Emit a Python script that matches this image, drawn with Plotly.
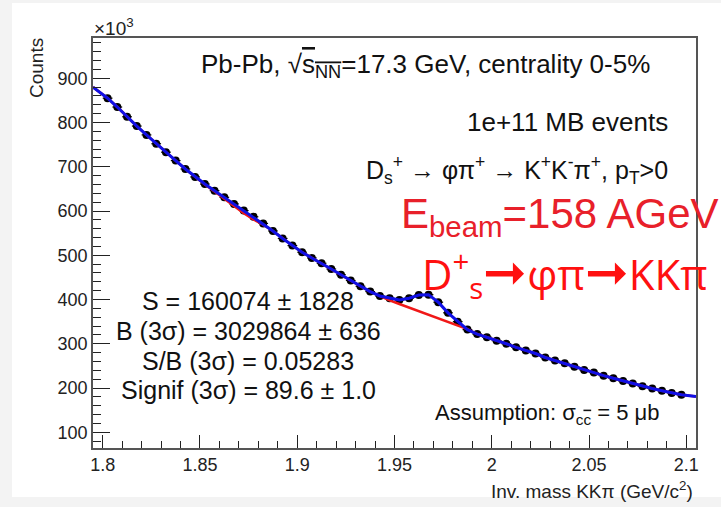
import plotly.graph_objects as go

# ---------------- data (counts in units of 10^3) ----------------
mass_centers = [1.8025 + 0.005 * i for i in range(60)]   # bin centres, 5 MeV bins
counts = [855, 835, 813, 792, 772, 752, 733, 714, 695, 677,
          661, 646, 631, 616, 601, 587, 572, 555, 538, 522,
          507, 494, 482, 469, 456, 443, 430, 418, 408, 403,
          399, 403, 410, 411, 394, 370, 350, 332, 322, 315,
          307, 300, 292, 285, 278, 269, 262, 256, 248, 241,
          235, 228, 222, 216, 210, 204, 199, 194, 189, 185]

# total fit (blue) and background fit (red), sampled at range edges + bin centres
fit_x = [1.795] + mass_centers + [2.105]
fit_total = [880] + counts + [181]
fit_bkg = ([880,
            855, 835, 813, 792, 772, 752, 733, 714, 695, 677,
            660, 644, 627, 610, 595, 581, 569, 555, 538, 522,
            507, 494, 482, 469, 456, 443, 430, 418, 408, 398,
            390, 382, 374, 366, 358, 350, 342, 333, 322, 315,
            307, 300, 292, 285, 278, 269, 262, 256, 248, 241,
            235, 228, 222, 216, 210, 204, 199, 194, 189, 185]
           + [181])

x_range = [1.795, 2.105]
y_range = [64.5, 991]

FONT = "Liberation Sans, Arial, Helvetica, sans-serif"

# plot-area geometry in pixels (for annotation placement)
L, R, T, B = 93, 696, 38, 448
W, H = R - L, B - T
def xp(px):
    return (px - L) / W
def yp(py):
    return (B - py) / H

fig = go.Figure()

fig.add_trace(go.Scatter(
    x=mass_centers, y=counts, mode="markers",
    marker=dict(color="black", size=8),
    error_x=dict(type="constant", value=0.0025, thickness=1.2, width=0, color="black"),
    showlegend=False, hoverinfo="skip"))

fig.add_trace(go.Scatter(
    x=fit_x, y=fit_bkg, mode="lines",
    line=dict(color="#f01818", width=2.5),
    showlegend=False, hoverinfo="skip"))

fig.add_trace(go.Scatter(
    x=fit_x, y=fit_total, mode="lines",
    line=dict(color="#1010e6", width=3),
    showlegend=False, hoverinfo="skip"))

axis_common = dict(
    showgrid=False, zeroline=False, showline=True, mirror=True,
    linecolor="#555555", linewidth=1.5,
    ticks="inside", tickcolor="#222222", tickwidth=1.2,
    tickfont=dict(family=FONT, size=18, color="#222222"),
)

fig.update_xaxes(range=x_range, tick0=1.8, dtick=0.05, ticklen=13,
                 minor=dict(tick0=1.8, dtick=0.01, ticks="inside", ticklen=7,
                            tickcolor="#222222", tickwidth=1.2),
                 **axis_common)
fig.update_yaxes(range=y_range, tick0=100, dtick=100, ticklen=17,
                 minor=dict(tick0=100, dtick=20, ticks="inside", ticklen=8,
                            tickcolor="#222222", tickwidth=1.2),
                 **axis_common)

hdr = dict(family=FONT, size=26, color="#111111")
txt = dict(family=FONT, size=25, color="#111111")
ann = []
ann.append(dict(x=xp(652), y=yp(66), xanchor="right", yanchor="middle",
                text="Pb-Pb, √<span style='text-decoration:overline'>s<sub>NN</sub></span>=17.3 GeV, centrality 0-5%",
                font=hdr))
ann.append(dict(x=xp(670), y=yp(122), xanchor="right", yanchor="middle",
                text="1e+11 MB events", font=hdr))
ann.append(dict(x=xp(670), y=yp(170), xanchor="right", yanchor="middle",
                text="D<sub>s</sub><sup>+</sup> → φπ<sup>+</sup> → K<sup>+</sup>K<sup>-</sup>π<sup>+</sup>, p<sub>T</sub>&gt;0",
                font=txt))
stats = ["S = 160074 ± 1828",
         "B (3σ) = 3029864 ± 636",
         "S/B (3σ) = 0.05283",
         "Signif (3σ) = 89.6 ± 1.0"]
for s, py in zip(stats, [301, 331, 361, 390]):
    ann.append(dict(x=xp(248), y=yp(py), xanchor="center", yanchor="middle",
                    text=s, font=txt))
ann.append(dict(x=xp(662), y=yp(414), xanchor="right", yanchor="middle",
                text="Assumption: σ<sub>c<span style='text-decoration:overline'>c</span></sub> = 5 μb",
                font=dict(family=FONT, size=22, color="#111111")))
# red overlay texts
ann.append(dict(x=xp(721), y=yp(216), xanchor="right", yanchor="middle",
                text="E<sub>beam</sub>=158 AGeV",
                font=dict(family=FONT, size=42, color="#e8202a")))
ann.append(dict(x=xp(420), y=yp(271), xanchor="left", yanchor="middle",
                text="D<sup>+</sup><sub>s</sub><span style='font-size:52px'>➞</span>φπ<span style='font-size:52px'>➞</span>KKπ",
                font=dict(family="Open Sans, Noto Sans, sans-serif", size=42, color="#ff1010")))
# axis titles
ann.append(dict(x=xp(37), y=yp(68), xanchor="center", yanchor="middle", textangle=-90,
                text="Counts", font=dict(family=FONT, size=19, color="#222222")))
ann.append(dict(x=xp(695), y=yp(490), xanchor="right", yanchor="middle",
                text="Inv. mass KKπ (GeV/c<sup>2</sup>)",
                font=dict(family=FONT, size=19, color="#222222")))
ann.append(dict(x=xp(92), y=yp(27), xanchor="left", yanchor="middle",
                text="×10<sup>3</sup>", font=dict(family=FONT, size=19, color="#222222")))
for a in ann:
    a.update(xref="paper", yref="paper", showarrow=False)

fig.update_layout(
    width=721, height=507,
    margin=dict(l=L, r=721 - R, t=T, b=507 - B, pad=0),
    paper_bgcolor="#f3f3f3", plot_bgcolor="white",
    annotations=ann,
    shapes=[dict(type="rect", xref="paper", yref="paper", layer="below",
                 x0=xp(12), x1=xp(730), y0=yp(497), y1=yp(3),
                 fillcolor="white", line=dict(width=0))],
)

fig.write_html("out.html")
